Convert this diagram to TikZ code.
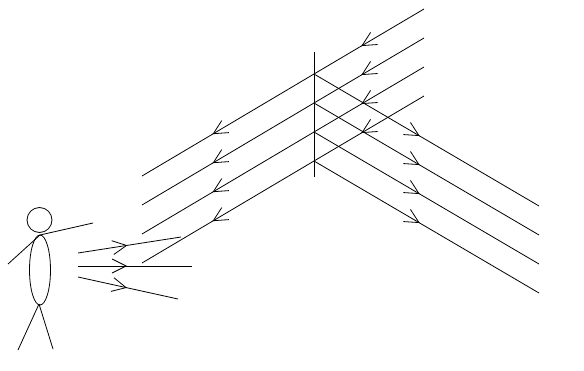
\documentclass[tikz,border=0pt]{standalone}
\usetikzlibrary{arrows.meta,decorations.markings}
\begin{document}
\begin{tikzpicture}[x=1pt,y=-1pt,line width=0.8pt,
	barb/.style={decoration={markings,mark=at position #1 with {\arrow{Straight Barb[length=14pt,width=14pt]}}},postaction={decorate}}]
	            \useasboundingbox (0,0) rectangle (584,370);
	            \draw (314,52) -- (314,177);
	            \foreach \i in {0,...,3} {
	                \coordinate (in\i) at (424,{9+29*\i});
	                \coordinate (m\i) at (314,{74+29*\i});
	                \coordinate (out\i) at (142,{176+29*\i});
	                \coordinate (r\i) at (539,{206+29*\i});
	                \draw[barb=0.57] (in\i) -- (m\i);
	                \draw[barb=0.59] (m\i) -- (out\i);
	                \draw[barb=0.47] (m\i) -- (r\i);
	            }
	            \draw (39.5,220) circle (12.5);
	            \draw (40,270) ellipse (10.5 and 35);
	            \draw (40,235) -- (93,223);
	            \draw (40,235) -- (8,264);
	            \draw (39,304) -- (18,350);
	            \draw (39,304) -- (53,349);
	            \draw[barb=0.48] (78,253) -- (181,237);
	            \draw[barb=0.43] (78,266) -- (192,266);
	            \draw[barb=0.49] (78,277) -- (178,299);
            \end{tikzpicture}
\end{document}
